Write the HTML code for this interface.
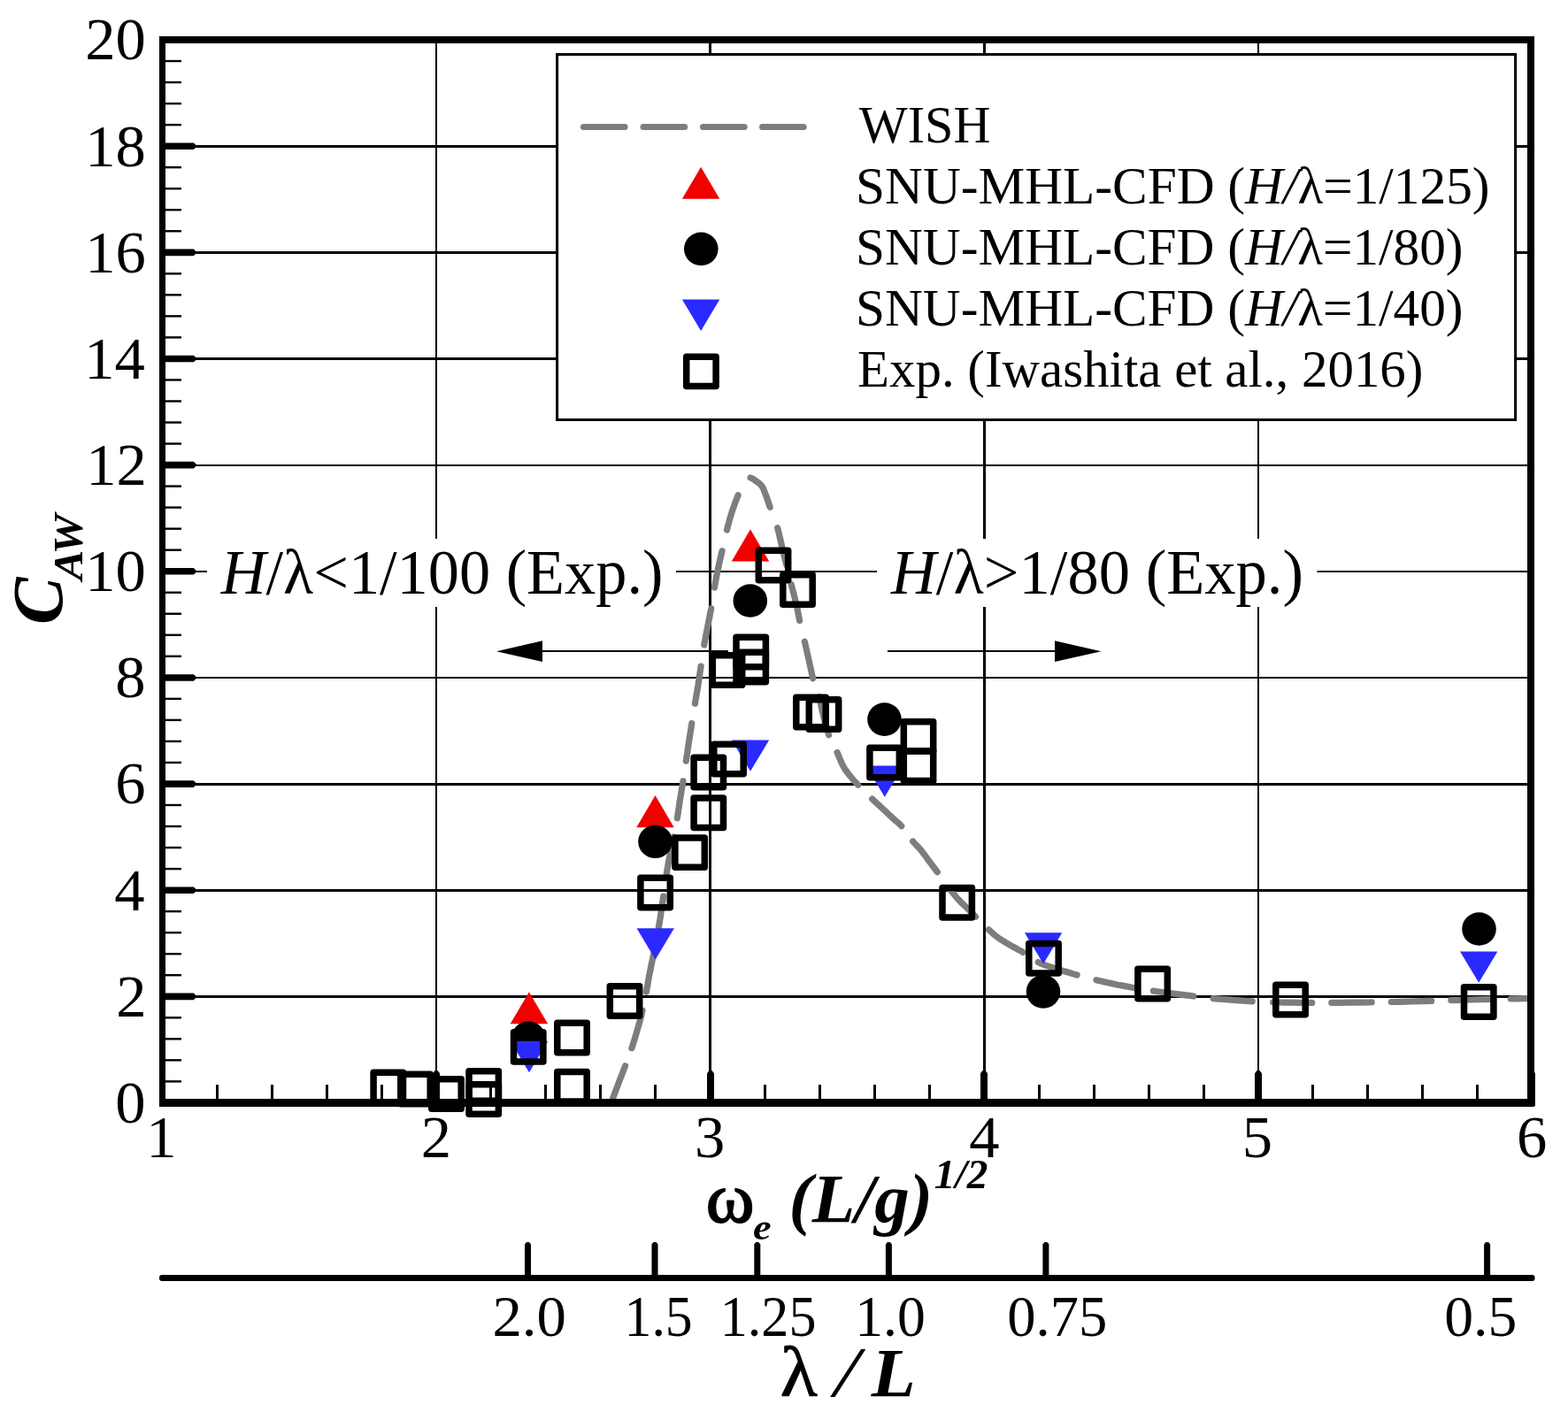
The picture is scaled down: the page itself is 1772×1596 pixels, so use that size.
<!DOCTYPE html>
<html lang="en">
<head>
<meta charset="utf-8">
<title>Added resistance coefficient</title>
<style>
html,body{margin:0;padding:0;background:#fff;}
body{width:1772px;height:1596px;overflow:hidden;}
svg{display:block;}
</style>
</head>
<body>
<svg width="1772" height="1596" viewBox="0 0 1772 1596" font-family="'Liberation Serif', 'DejaVu Serif', serif" fill="#000">
<rect x="0" y="0" width="1772" height="1596" fill="#fff"/>
<g id="grid" fill="#000" shape-rendering="crispEdges">
<rect x="492" y="45" width="2" height="1202"/>
<rect x="801" y="45" width="3" height="1202"/>
<rect x="1111" y="45" width="3" height="1202"/>
<rect x="1421" y="45" width="2" height="1202"/>
<rect x="184" y="164" width="1547" height="3"/>
<rect x="184" y="284" width="1547" height="3"/>
<rect x="184" y="404" width="1547" height="3"/>
<rect x="184" y="525" width="1547" height="2"/>
<rect x="184" y="645" width="1547" height="2"/>
<rect x="184" y="765" width="1547" height="2"/>
<rect x="184" y="885" width="1547" height="3"/>
<rect x="184" y="1005" width="1547" height="3"/>
<rect x="184" y="1125" width="1547" height="3"/>
</g>
<g id="ticks" fill="#000" shape-rendering="crispEdges">
<rect x="184" y="1221.17" width="21" height="2.4" shape-rendering="auto"/>
<rect x="184" y="1197.14" width="21" height="2.4" shape-rendering="auto"/>
<rect x="184" y="1173.12" width="21" height="2.4" shape-rendering="auto"/>
<rect x="184" y="1149.09" width="21" height="2.4" shape-rendering="auto"/>
<rect x="184" y="1101.03" width="21" height="2.4" shape-rendering="auto"/>
<rect x="184" y="1077.00" width="21" height="2.4" shape-rendering="auto"/>
<rect x="184" y="1052.98" width="21" height="2.4" shape-rendering="auto"/>
<rect x="184" y="1028.95" width="21" height="2.4" shape-rendering="auto"/>
<rect x="184" y="980.89" width="21" height="2.4" shape-rendering="auto"/>
<rect x="184" y="956.86" width="21" height="2.4" shape-rendering="auto"/>
<rect x="184" y="932.84" width="21" height="2.4" shape-rendering="auto"/>
<rect x="184" y="908.81" width="21" height="2.4" shape-rendering="auto"/>
<rect x="184" y="860.75" width="21" height="2.4" shape-rendering="auto"/>
<rect x="184" y="836.72" width="21" height="2.4" shape-rendering="auto"/>
<rect x="184" y="812.70" width="21" height="2.4" shape-rendering="auto"/>
<rect x="184" y="788.67" width="21" height="2.4" shape-rendering="auto"/>
<rect x="184" y="740.61" width="21" height="2.4" shape-rendering="auto"/>
<rect x="184" y="716.58" width="21" height="2.4" shape-rendering="auto"/>
<rect x="184" y="692.56" width="21" height="2.4" shape-rendering="auto"/>
<rect x="184" y="668.53" width="21" height="2.4" shape-rendering="auto"/>
<rect x="184" y="620.47" width="21" height="2.4" shape-rendering="auto"/>
<rect x="184" y="596.44" width="21" height="2.4" shape-rendering="auto"/>
<rect x="184" y="572.42" width="21" height="2.4" shape-rendering="auto"/>
<rect x="184" y="548.39" width="21" height="2.4" shape-rendering="auto"/>
<rect x="184" y="500.33" width="21" height="2.4" shape-rendering="auto"/>
<rect x="184" y="476.30" width="21" height="2.4" shape-rendering="auto"/>
<rect x="184" y="452.28" width="21" height="2.4" shape-rendering="auto"/>
<rect x="184" y="428.25" width="21" height="2.4" shape-rendering="auto"/>
<rect x="184" y="380.19" width="21" height="2.4" shape-rendering="auto"/>
<rect x="184" y="356.16" width="21" height="2.4" shape-rendering="auto"/>
<rect x="184" y="332.14" width="21" height="2.4" shape-rendering="auto"/>
<rect x="184" y="308.11" width="21" height="2.4" shape-rendering="auto"/>
<rect x="184" y="260.05" width="21" height="2.4" shape-rendering="auto"/>
<rect x="184" y="236.02" width="21" height="2.4" shape-rendering="auto"/>
<rect x="184" y="212.00" width="21" height="2.4" shape-rendering="auto"/>
<rect x="184" y="187.97" width="21" height="2.4" shape-rendering="auto"/>
<rect x="184" y="139.91" width="21" height="2.4" shape-rendering="auto"/>
<rect x="184" y="115.88" width="21" height="2.4" shape-rendering="auto"/>
<rect x="184" y="91.86" width="21" height="2.4" shape-rendering="auto"/>
<rect x="184" y="67.83" width="21" height="2.4" shape-rendering="auto"/>
<rect x="244" y="1226" width="3" height="21"/>
<rect x="306" y="1226" width="3" height="21"/>
<rect x="368" y="1226" width="3" height="21"/>
<rect x="430" y="1226" width="3" height="21"/>
<rect x="553" y="1226" width="3" height="21"/>
<rect x="615" y="1226" width="3" height="21"/>
<rect x="677" y="1226" width="3" height="21"/>
<rect x="739" y="1226" width="3" height="21"/>
<rect x="863" y="1226" width="3" height="21"/>
<rect x="925" y="1226" width="3" height="21"/>
<rect x="987" y="1226" width="3" height="21"/>
<rect x="1049" y="1226" width="3" height="21"/>
<rect x="1173" y="1226" width="3" height="21"/>
<rect x="1235" y="1226" width="3" height="21"/>
<rect x="1297" y="1226" width="3" height="21"/>
<rect x="1359" y="1226" width="3" height="21"/>
<rect x="1482" y="1226" width="3" height="21"/>
<rect x="1544" y="1226" width="3" height="21"/>
<rect x="1606" y="1226" width="3" height="21"/>
<rect x="1668" y="1226" width="3" height="21"/>
</g>
<g id="majorticks" fill="#000">
<polygon points="184,1122.56 218.8,1122.56 221.3,1124.96 221.3,1127.76 218.8,1130.16 184,1130.16"/>
<polygon points="184,1002.42 218.8,1002.42 221.3,1004.82 221.3,1007.62 218.8,1010.02 184,1010.02"/>
<polygon points="184,882.28 218.8,882.28 221.3,884.68 221.3,887.48 218.8,889.88 184,889.88"/>
<polygon points="184,762.14 218.8,762.14 221.3,764.54 221.3,767.34 218.8,769.74 184,769.74"/>
<polygon points="184,642.00 218.8,642.00 221.3,644.40 221.3,647.20 218.8,649.60 184,649.60"/>
<polygon points="184,521.86 218.8,521.86 221.3,524.26 221.3,527.06 218.8,529.46 184,529.46"/>
<polygon points="184,401.72 218.8,401.72 221.3,404.12 221.3,406.92 218.8,409.32 184,409.32"/>
<polygon points="184,281.58 218.8,281.58 221.3,283.98 221.3,286.78 218.8,289.18 184,289.18"/>
<polygon points="184,161.44 218.8,161.44 221.3,163.84 221.3,166.64 218.8,169.04 184,169.04"/>
<polygon points="489,1247 489,1213.3 491.5,1210 494.5,1210 497,1213.3 497,1247"/>
<polygon points="799,1247 799,1213.3 801.5,1210 804.5,1210 807,1213.3 807,1247"/>
<polygon points="1108,1247 1108,1213.3 1110.5,1210 1113.5,1210 1116,1213.3 1116,1247"/>
<polygon points="1418,1247 1418,1213.3 1420.5,1210 1423.5,1210 1426,1213.3 1426,1247"/>
<polygon points="1728.3,1247 1728.3,1213.3 1730.1,1210 1733.1,1210 1734.8999999999999,1213.3 1734.8999999999999,1249.3 1733.3999999999999,1250.8 1728.3,1250.8"/>
</g>
<rect x="234" y="609" width="530" height="77" fill="#fff"/>
<rect x="991" y="609" width="497.5" height="77" fill="#fff"/>
<g id="wish">
<path d="M690.3,1246.5 L690.5,1246.2 L690.7,1245.8 L690.9,1245.3 L691.3,1244.6 L691.8,1243.4 L692.5,1241.7 L693.4,1239.2 L694.6,1236.1 L695.9,1232.6 L697.3,1228.9 L698.7,1225.2 L700.0,1221.7 L701.3,1218.4 L702.6,1215.1 L703.9,1211.8 L705.1,1208.6 L706.3,1205.5 L706.6,1204.8" fill="none" stroke="#7d7d7d" stroke-width="7.2" stroke-linecap="round" stroke-linejoin="round"/>
<path d="M713.9,1184.7 L714.4,1183.4 L715.5,1179.8 L716.7,1176.0 L717.9,1172.2 L719.0,1168.5 L720.0,1165.0 L720.9,1161.8 L721.8,1158.8 L722.6,1156.0 L723.4,1153.1 L724.2,1150.0 L725.0,1146.7 L725.8,1143.1 L726.0,1142.2" fill="none" stroke="#7d7d7d" stroke-width="7.2" stroke-linecap="round" stroke-linejoin="round"/>
<path d="M730.4,1121.1 L730.7,1119.4 L731.5,1115.4 L732.2,1111.4 L732.8,1107.5 L733.5,1103.7 L734.2,1100.0 L734.9,1096.6 L735.5,1093.5 L736.1,1090.5 L736.8,1087.3 L737.5,1083.9 L738.3,1080.0 L738.8,1077.5" fill="none" stroke="#7d7d7d" stroke-width="7.2" stroke-linecap="round" stroke-linejoin="round"/>
<path d="M743.0,1055.5 L743.3,1053.9 L744.2,1049.2 L744.9,1045.1 L745.5,1041.4 L746.1,1037.9 L746.6,1034.6 L747.0,1031.5 L747.5,1028.3 L747.9,1025.3 L748.3,1022.6 L748.7,1020.1 L749.1,1017.4 L749.5,1014.3 L749.7,1013.1" fill="none" stroke="#7d7d7d" stroke-width="7.2" stroke-linecap="round" stroke-linejoin="round"/>
<path d="M753.0,989.6 L753.5,986.3 L754.2,981.7 L754.9,977.8 L755.5,974.3 L756.1,971.1 L756.7,967.8 L757.5,964.2 L758.3,960.0 L759.3,955.0 L760.5,949.3 L761.2,946.0" fill="none" stroke="#7d7d7d" stroke-width="7.2" stroke-linecap="round" stroke-linejoin="round"/>
<path d="M765.3,924.8 L765.7,922.5 L766.3,918.7 L766.8,915.3 L767.3,912.0 L767.7,908.7 L768.3,905.0 L769.0,900.9 L769.7,896.6 L770.4,892.2 L771.2,887.9 L771.9,883.8 L772.0,882.8" fill="none" stroke="#7d7d7d" stroke-width="7.2" stroke-linecap="round" stroke-linejoin="round"/>
<path d="M775.3,860.2 L775.5,859.1 L776.0,855.5 L776.6,851.7 L777.1,847.9 L777.7,844.0 L778.3,840.0 L778.9,835.9 L779.6,831.6 L780.3,827.2 L781.0,822.9 L781.6,818.8 L781.8,817.7" fill="none" stroke="#7d7d7d" stroke-width="7.2" stroke-linecap="round" stroke-linejoin="round"/>
<path d="M785.4,795.2 L785.5,794.4 L786.1,791.3 L786.6,788.2 L787.2,785.0 L787.7,781.7 L788.3,778.3 L788.9,774.8 L789.4,771.2 L790.0,767.5 L790.5,763.7 L791.1,759.9 L791.7,756.0 L792.1,753.1" fill="none" stroke="#7d7d7d" stroke-width="7.2" stroke-linecap="round" stroke-linejoin="round"/>
<path d="M795.8,729.0 L796.0,727.5 L796.8,723.3 L797.6,719.0 L798.4,714.8 L799.2,710.7 L800.0,706.7 L800.7,702.9 L801.5,699.1 L802.2,695.4 L802.9,691.9 L803.6,688.4 L803.7,687.8" fill="none" stroke="#7d7d7d" stroke-width="7.2" stroke-linecap="round" stroke-linejoin="round"/>
<path d="M807.5,664.0 L807.7,662.9 L808.4,658.7 L809.2,654.4 L810.0,650.0 L810.9,645.8 L811.7,641.7 L812.5,637.9 L813.4,634.1 L814.2,630.4 L815.1,626.9 L815.9,623.4 L816.1,622.7" fill="none" stroke="#7d7d7d" stroke-width="7.2" stroke-linecap="round" stroke-linejoin="round"/>
<path d="M821.5,599.0 L821.7,598.3 L822.5,594.7 L823.5,591.1 L824.5,587.4 L825.6,583.7 L826.7,580.0 L828.0,576.2 L829.4,572.1 L830.9,568.1 L832.4,564.2 L833.8,560.6 L834.1,559.7" fill="none" stroke="#7d7d7d" stroke-width="7.2" stroke-linecap="round" stroke-linejoin="round"/>
<path d="M848.1,540.0 L848.1,540.0 L848.8,540.3 L849.5,540.6 L850.3,541.0 L851.2,541.5 L852.1,542.1 L853.1,542.8 L854.0,543.5 L855.0,544.2 L856.0,544.9 L857.0,545.6 L858.0,546.4 L859.0,547.2 L859.9,548.1 L860.8,549.2 L861.6,550.4 L862.3,551.6 L862.9,553.0 L863.5,554.6 L864.2,556.3 L865.0,558.3 L865.9,560.6 L866.8,563.2 L867.7,566.0 L868.7,569.0 L869.7,572.0 L870.2,573.4" fill="none" stroke="#7d7d7d" stroke-width="7.2" stroke-linecap="round" stroke-linejoin="round"/>
<path d="M878.7,596.7 L879.2,598.4 L880.3,603.0 L881.4,607.9 L882.6,612.9 L883.8,618.1 L885.0,623.3 L886.3,628.7 L887.7,634.4 L888.8,638.5" fill="none" stroke="#7d7d7d" stroke-width="7.2" stroke-linecap="round" stroke-linejoin="round"/>
<path d="M894.2,660.4 L894.5,661.6 L895.7,666.3 L896.9,670.8 L898.0,675.1 L899.0,679.3 L900.0,683.3 L900.8,687.1 L901.6,690.8 L902.2,694.3 L902.9,697.6 L903.5,700.9 L903.6,701.4" fill="none" stroke="#7d7d7d" stroke-width="7.2" stroke-linecap="round" stroke-linejoin="round"/>
<path d="M909.3,725.2 L909.6,726.2 L910.5,730.2 L911.4,734.3 L912.3,738.5 L913.3,742.7 L914.2,746.7 L915.1,750.7 L916.0,754.8 L916.9,758.9 L917.7,762.9 L918.6,766.6 L918.7,766.9" fill="none" stroke="#7d7d7d" stroke-width="7.2" stroke-linecap="round" stroke-linejoin="round"/>
<path d="M925.7,787.7 L925.8,788.2 L926.6,791.6 L927.4,795.1 L928.2,798.9 L929.0,802.7 L930.0,806.7 L931.1,811.0 L932.3,815.6 L933.5,820.3 L934.8,825.0 L936.2,829.4 L936.6,830.8" fill="none" stroke="#7d7d7d" stroke-width="7.2" stroke-linecap="round" stroke-linejoin="round"/>
<path d="M946.1,850.6 L947.1,852.8 L948.3,855.8 L949.5,858.7 L950.8,861.5 L952.0,864.2 L953.3,866.7 L954.6,868.9 L956.0,871.0 L957.4,872.9 L958.8,874.7 L960.2,876.5 L961.7,878.3 L963.1,880.0 L964.5,881.6 L965.9,883.1 L967.4,884.7 L969.0,886.4 L969.8,887.2" fill="none" stroke="#7d7d7d" stroke-width="7.2" stroke-linecap="round" stroke-linejoin="round"/>
<path d="M985.7,903.1 L987.1,904.5 L989.1,906.3 L991.0,908.1 L992.9,909.8 L994.8,911.5 L996.7,913.3 L998.6,915.1 L1000.6,916.9 L1002.5,918.7 L1004.4,920.6 L1006.4,922.4 L1008.3,924.2 L1010.3,926.0 L1012.2,927.7 L1014.2,929.3 L1016.2,931.1 L1018.1,933.0 L1018.8,933.7" fill="none" stroke="#7d7d7d" stroke-width="7.2" stroke-linecap="round" stroke-linejoin="round"/>
<path d="M1031.6,951.0 L1032.4,951.9 L1034.0,953.6 L1035.4,955.1 L1036.9,956.6 L1038.4,958.2 L1040.0,960.0 L1041.6,962.0 L1043.3,964.2 L1045.0,966.4 L1046.6,968.7 L1048.3,971.0 L1050.0,973.3 L1051.7,975.5 L1053.3,977.8 L1055.0,980.0 L1056.7,982.2 L1058.4,984.5 L1059.3,985.7" fill="none" stroke="#7d7d7d" stroke-width="7.2" stroke-linecap="round" stroke-linejoin="round"/>
<path d="M1072.5,1003.8 L1073.5,1005.1 L1075.6,1007.8 L1077.8,1010.5 L1079.9,1013.1 L1082.0,1015.5 L1084.1,1017.7 L1086.2,1019.9 L1088.2,1021.9 L1090.3,1023.9 L1092.3,1025.8 L1094.2,1027.7 L1096.0,1029.5 L1097.7,1031.2 L1099.3,1032.8 L1100.9,1034.5 L1102.5,1036.1 L1102.6,1036.2" fill="none" stroke="#7d7d7d" stroke-width="7.2" stroke-linecap="round" stroke-linejoin="round"/>
<path d="M1117.5,1050.9 L1118.2,1051.5 L1120.1,1053.3 L1122.0,1055.0 L1123.9,1056.7 L1125.9,1058.3 L1128.0,1059.9 L1130.1,1061.4 L1132.3,1062.8 L1134.6,1064.2 L1136.9,1065.6 L1139.2,1066.9 L1141.6,1068.3 L1144.0,1069.7 L1146.5,1071.0 L1149.0,1072.4 L1151.5,1073.8 L1154.1,1075.2 L1156.1,1076.4" fill="none" stroke="#7d7d7d" stroke-width="7.2" stroke-linecap="round" stroke-linejoin="round"/>
<path d="M1173.3,1087.6 L1173.7,1087.8 L1176.6,1089.2 L1179.6,1090.3 L1182.5,1091.4 L1185.6,1092.4 L1188.9,1093.5 L1192.4,1094.6 L1196.3,1095.8 L1200.6,1097.2 L1205.1,1098.5 L1209.5,1099.8 L1213.8,1101.1 L1217.1,1102.0" fill="none" stroke="#7d7d7d" stroke-width="7.2" stroke-linecap="round" stroke-linejoin="round"/>
<path d="M1238.9,1107.7 L1240.8,1108.2 L1244.6,1109.0 L1248.5,1109.9 L1252.4,1110.8 L1256.3,1111.6 L1260.1,1112.4 L1263.8,1113.2 L1267.6,1113.9 L1271.3,1114.6 L1274.9,1115.3 L1278.5,1116.0 L1282.1,1116.6 L1283.0,1116.8" fill="none" stroke="#7d7d7d" stroke-width="7.2" stroke-linecap="round" stroke-linejoin="round"/>
<path d="M1303.4,1120.1 L1307.8,1120.7 L1314.0,1121.5 L1320.8,1122.4 L1327.6,1123.3 L1334.1,1124.1 L1340.0,1124.8 L1344.8,1125.4 L1348.9,1126.0" fill="none" stroke="#7d7d7d" stroke-width="7.2" stroke-linecap="round" stroke-linejoin="round"/>
<path d="M1371.1,1128.6 L1374.1,1128.8 L1382.2,1129.5 L1391.0,1130.2 L1400.0,1130.9 L1408.8,1131.5 L1415.2,1131.9" fill="none" stroke="#7d7d7d" stroke-width="7.2" stroke-linecap="round" stroke-linejoin="round"/>
<path d="M1438.6,1132.9 L1444.3,1133.0 L1451.6,1133.1 L1460.0,1133.2 L1469.5,1133.3 L1479.9,1133.4 L1482.7,1133.4" fill="none" stroke="#7d7d7d" stroke-width="7.2" stroke-linecap="round" stroke-linejoin="round"/>
<path d="M1504.8,1133.4 L1513.6,1133.3 L1525.0,1133.2 L1536.4,1133.1 L1548.1,1133.0 L1550.2,1132.9" fill="none" stroke="#7d7d7d" stroke-width="7.2" stroke-linecap="round" stroke-linejoin="round"/>
<path d="M1572.3,1132.5 L1583.4,1132.3 L1595.0,1132.0 L1606.3,1131.7 L1617.5,1131.4 L1617.7,1131.4" fill="none" stroke="#7d7d7d" stroke-width="7.2" stroke-linecap="round" stroke-linejoin="round"/>
<path d="M1639.8,1130.7 L1650.8,1130.3 L1662.0,1130.0 L1674.2,1129.7 L1686.4,1129.4" fill="none" stroke="#7d7d7d" stroke-width="7.2" stroke-linecap="round" stroke-linejoin="round"/>
<path d="M1707.3,1129.0 L1713.0,1128.9 L1723.5,1128.7 L1728.5,1128.6" fill="none" stroke="#7d7d7d" stroke-width="7.2" stroke-linecap="round" stroke-linejoin="round"/>
</g>
<g id="cfd125">
<polygon points="597.9,1121.2 576.7,1157.2 619.1,1157.2" fill="#f20000"/>
<polygon points="740.5,899.1 719.3,935.2 761.7,935.2" fill="#f20000"/>
<polygon points="848.0,598.3 826.8,634.4 869.2,634.4" fill="#f20000"/>
</g>
<g id="cfd80">
<ellipse cx="597.2" cy="1173.2" rx="19.3" ry="18.8" fill="#000"/>
<ellipse cx="740.5" cy="951.3" rx="19.3" ry="18.8" fill="#000"/>
<ellipse cx="847.8" cy="679.0" rx="19.3" ry="18.8" fill="#000"/>
<ellipse cx="999.5" cy="813.1" rx="19.3" ry="18.8" fill="#000"/>
<ellipse cx="1179.0" cy="1120.9" rx="19.3" ry="18.8" fill="#000"/>
<ellipse cx="1671.5" cy="1050.0" rx="19.3" ry="18.8" fill="#000"/>
</g>
<g id="cfd40">
<polygon points="598.0,1212.2 576.8,1176.8 619.2,1176.8" fill="#2a2aff"/>
<polygon points="740.7,1084.6 719.5,1049.2 761.9,1049.2" fill="#2a2aff"/>
<polygon points="848.0,871.8 826.8,836.4 869.2,836.4" fill="#2a2aff"/>
<polygon points="999.8,900.8 978.6,865.4 1021.0,865.4" fill="#2a2aff"/>
<polygon points="1179.1,1089.6 1157.9,1054.2 1200.3,1054.2" fill="#2a2aff"/>
<polygon points="1671.2,1110.8 1650.0,1075.4 1692.4,1075.4" fill="#2a2aff"/>
</g>
<g id="exp">
<rect x="422.1" y="1212.3" width="33.4" height="33.4" fill="none" stroke="#000" stroke-width="7.5" stroke-linejoin="round"/>
<rect x="452.8" y="1214.3" width="33.4" height="33.4" fill="none" stroke="#000" stroke-width="7.5" stroke-linejoin="round"/>
<rect x="487.8" y="1219.8" width="33.4" height="33.4" fill="none" stroke="#000" stroke-width="7.5" stroke-linejoin="round"/>
<rect x="530.0" y="1210.8" width="33.4" height="33.4" fill="none" stroke="#000" stroke-width="7.5" stroke-linejoin="round"/>
<rect x="530.0" y="1225.8" width="33.4" height="33.4" fill="none" stroke="#000" stroke-width="7.5" stroke-linejoin="round"/>
<rect x="580.5" y="1166.7" width="33.4" height="33.4" fill="none" stroke="#000" stroke-width="7.5" stroke-linejoin="round"/>
<rect x="629.8" y="1156.3" width="33.4" height="33.4" fill="none" stroke="#000" stroke-width="7.5" stroke-linejoin="round"/>
<rect x="629.8" y="1211.5" width="33.4" height="33.4" fill="none" stroke="#000" stroke-width="7.5" stroke-linejoin="round"/>
<rect x="689.3" y="1114.8" width="33.4" height="33.4" fill="none" stroke="#000" stroke-width="7.5" stroke-linejoin="round"/>
<rect x="723.9" y="992.3" width="33.4" height="33.4" fill="none" stroke="#000" stroke-width="7.5" stroke-linejoin="round"/>
<rect x="762.9" y="946.9" width="33.4" height="33.4" fill="none" stroke="#000" stroke-width="7.5" stroke-linejoin="round"/>
<rect x="784.1" y="902.0" width="33.4" height="33.4" fill="none" stroke="#000" stroke-width="7.5" stroke-linejoin="round"/>
<rect x="784.1" y="856.3" width="33.4" height="33.4" fill="none" stroke="#000" stroke-width="7.5" stroke-linejoin="round"/>
<rect x="806.8" y="841.3" width="33.4" height="33.4" fill="none" stroke="#000" stroke-width="7.5" stroke-linejoin="round"/>
<rect x="805.3" y="740.8" width="33.4" height="33.4" fill="none" stroke="#000" stroke-width="7.5" stroke-linejoin="round"/>
<rect x="832.0" y="737.3" width="33.4" height="33.4" fill="none" stroke="#000" stroke-width="7.5" stroke-linejoin="round"/>
<rect x="832.0" y="720.3" width="33.4" height="33.4" fill="none" stroke="#000" stroke-width="7.5" stroke-linejoin="round"/>
<rect x="857.3" y="622.3" width="33.4" height="33.4" fill="none" stroke="#000" stroke-width="7.5" stroke-linejoin="round"/>
<rect x="884.8" y="649.8" width="33.4" height="33.4" fill="none" stroke="#000" stroke-width="7.5" stroke-linejoin="round"/>
<rect x="899.8" y="788.3" width="33.4" height="33.4" fill="none" stroke="#000" stroke-width="7.5" stroke-linejoin="round"/>
<rect x="914.3" y="790.8" width="33.4" height="33.4" fill="none" stroke="#000" stroke-width="7.5" stroke-linejoin="round"/>
<rect x="982.9" y="845.3" width="33.4" height="33.4" fill="none" stroke="#000" stroke-width="7.5" stroke-linejoin="round"/>
<rect x="1021.3" y="815.7" width="33.4" height="33.4" fill="none" stroke="#000" stroke-width="7.5" stroke-linejoin="round"/>
<rect x="1021.3" y="849.0" width="33.4" height="33.4" fill="none" stroke="#000" stroke-width="7.5" stroke-linejoin="round"/>
<rect x="1065.0" y="1003.5" width="33.4" height="33.4" fill="none" stroke="#000" stroke-width="7.5" stroke-linejoin="round"/>
<rect x="1162.8" y="1066.5" width="33.4" height="33.4" fill="none" stroke="#000" stroke-width="7.5" stroke-linejoin="round"/>
<rect x="1285.9" y="1095.3" width="33.4" height="33.4" fill="none" stroke="#000" stroke-width="7.5" stroke-linejoin="round"/>
<rect x="1441.8" y="1113.3" width="33.4" height="33.4" fill="none" stroke="#000" stroke-width="7.5" stroke-linejoin="round"/>
<rect x="1654.5" y="1115.8" width="33.4" height="33.4" fill="none" stroke="#000" stroke-width="7.5" stroke-linejoin="round"/>
</g>
<g id="frame" fill="#000" shape-rendering="crispEdges">
<rect x="180" y="41" width="7" height="1210"/>
<rect x="1726" y="41" width="8" height="1210"/>
<rect x="180" y="41" width="1554" height="8"/>
<rect x="180" y="1242" width="1554" height="9"/>
</g>
<rect x="629.6" y="61.5" width="1083" height="413" fill="#fff" stroke="#000" stroke-width="3"/>
<path d="M659.5,143.5 L706.0,143.5" fill="none" stroke="#7d7d7d" stroke-width="7.2" stroke-linecap="round" stroke-linejoin="round"/>
<path d="M727.1,143.5 L773.6,143.5" fill="none" stroke="#7d7d7d" stroke-width="7.2" stroke-linecap="round" stroke-linejoin="round"/>
<path d="M794.6,143.5 L841.1,143.5" fill="none" stroke="#7d7d7d" stroke-width="7.2" stroke-linecap="round" stroke-linejoin="round"/>
<path d="M861.6,143.5 L908.1,143.5" fill="none" stroke="#7d7d7d" stroke-width="7.2" stroke-linecap="round" stroke-linejoin="round"/>
<polygon points="792.1,188.7 770.9,224.8 813.3,224.8" fill="#f20000"/>
<ellipse cx="792.3" cy="281.4" rx="19.3" ry="18.8" fill="#000"/>
<polygon points="792.1,374.0 770.9,338.6 813.3,338.6" fill="#2a2aff"/>
<rect x="775.7" y="403.2" width="33.4" height="33.4" fill="none" stroke="#000" stroke-width="7.5" stroke-linejoin="round"/>
<g id="labels">
<text x="970.80" y="161.4" font-size="60" textLength="148.67" lengthAdjust="spacingAndGlyphs" xml:space="preserve">WISH</text>
<text x="967.04" y="230.1" font-size="60" textLength="716.55" lengthAdjust="spacingAndGlyphs" xml:space="preserve">SNU-MHL-CFD (<tspan font-style="italic">H/</tspan>λ=1/125)</text>
<text x="967.05" y="299.2" font-size="60" textLength="686.55" lengthAdjust="spacingAndGlyphs" xml:space="preserve">SNU-MHL-CFD (<tspan font-style="italic">H/</tspan>λ=1/80)</text>
<text x="967.05" y="368.4" font-size="60" textLength="686.55" lengthAdjust="spacingAndGlyphs" xml:space="preserve">SNU-MHL-CFD (<tspan font-style="italic">H/</tspan>λ=1/40)</text>
<text x="969.04" y="437.4" font-size="60" textLength="639.40" lengthAdjust="spacingAndGlyphs" xml:space="preserve">Exp. (Iwashita et al., 2016)</text>
<text x="249.79" y="671" font-size="71" textLength="499.64" lengthAdjust="spacingAndGlyphs" xml:space="preserve"><tspan font-style="italic">H</tspan>/λ&lt;1/100 (Exp.)</text>
<text x="1006.89" y="671" font-size="71" textLength="466.15" lengthAdjust="spacingAndGlyphs" xml:space="preserve"><tspan font-style="italic">H</tspan>/λ&gt;1/80 (Exp.)</text>
<text x="556.44" y="1510" font-size="65.5" textLength="83.49" lengthAdjust="spacingAndGlyphs" xml:space="preserve">2.0</text>
<text x="705.60" y="1510" font-size="65.5" textLength="77.11" lengthAdjust="spacingAndGlyphs" xml:space="preserve">1.5</text>
<text x="813.81" y="1510" font-size="65.5" textLength="108.68" lengthAdjust="spacingAndGlyphs" xml:space="preserve">1.25</text>
<text x="966.16" y="1510" font-size="65.5" textLength="79.63" lengthAdjust="spacingAndGlyphs" xml:space="preserve">1.0</text>
<text x="1138.29" y="1510" font-size="65.5" textLength="113.05" lengthAdjust="spacingAndGlyphs" xml:space="preserve">0.75</text>
<text x="1632.24" y="1510" font-size="65.5" textLength="82.14" lengthAdjust="spacingAndGlyphs" xml:space="preserve">0.5</text>
<text x="797.69" y="1381.2" font-size="81" stroke="#000" stroke-width="1.8" stroke-linejoin="round" textLength="54.80" lengthAdjust="spacingAndGlyphs" xml:space="preserve">ω</text>
<text x="850.99" y="1401.4" font-size="42" font-weight="bold" font-style="italic" textLength="20.63" lengthAdjust="spacingAndGlyphs" xml:space="preserve">e</text>
<text x="891.41" y="1381" font-size="77.5" font-weight="bold" font-style="italic" textLength="162.75" lengthAdjust="spacingAndGlyphs" xml:space="preserve">(L/g)</text>
<text x="1055.88" y="1342.7" font-size="46.4" font-weight="bold" font-style="italic" textLength="60.53" lengthAdjust="spacingAndGlyphs" xml:space="preserve">1/2</text>
<text x="881.84" y="1578.1" font-size="80" stroke="#000" stroke-width="1" stroke-linejoin="round" textLength="41.94" lengthAdjust="spacingAndGlyphs" xml:space="preserve">λ</text>
<text x="942.86" y="1578" font-size="80" font-style="italic" textLength="27.90" lengthAdjust="spacingAndGlyphs" xml:space="preserve">/</text>
<text x="984.80" y="1577.9" font-size="78" font-weight="bold" font-style="italic" textLength="50.04" lengthAdjust="spacingAndGlyphs" xml:space="preserve">L</text>
<text transform="translate(70.3,705.91) rotate(-90)" font-size="80" font-weight="bold" font-style="italic" textLength="53.57" lengthAdjust="spacingAndGlyphs">C</text>
<text transform="translate(92.8,655.83) rotate(-90)" font-size="47" font-weight="bold" font-style="italic" textLength="74.67" lengthAdjust="spacingAndGlyphs">AW</text>
<text x="130.30" y="1268.8" font-size="68.6">0</text>
<text x="131.30" y="1148.7" font-size="68.6">2</text>
<text x="129.30" y="1028.5" font-size="68.6">4</text>
<text x="130.30" y="908.4" font-size="68.6">6</text>
<text x="130.30" y="788.2" font-size="68.6">8</text>
<text x="96.30" y="668.1" font-size="68.6">10</text>
<text x="97.30" y="548.0" font-size="68.6">12</text>
<text x="95.30" y="427.8" font-size="68.6">14</text>
<text x="96.30" y="307.7" font-size="68.6">16</text>
<text x="96.30" y="187.5" font-size="68.6">18</text>
<text x="96.30" y="67.4" font-size="68.6">20</text>
<text x="165.13" y="1307.9" font-size="68.6">1</text>
<text x="475.80" y="1307.9" font-size="68.6">2</text>
<text x="784.96" y="1307.9" font-size="68.6">3</text>
<text x="1095.13" y="1307.9" font-size="68.6">4</text>
<text x="1403.80" y="1307.9" font-size="68.6">5</text>
<text x="1713.96" y="1307.9" font-size="68.6">6</text>
</g>
<rect x="611" y="735" width="211.5" height="2" fill="#000" shape-rendering="crispEdges"/>
<polygon points="561,736.2 613,724.3 613,748.1" fill="#000"/>
<rect x="1003" y="735" width="191" height="2" fill="#000" shape-rendering="crispEdges"/>
<polygon points="1244.5,736.2 1192,724.3 1192,748.1" fill="#000"/>
<g id="axis2" fill="#000">
<rect x="180" y="1441" width="1554.5" height="7" rx="3"/>
<polygon points="593.0,1445 593.0,1406.5 595.0,1404 598.0,1404 600.0,1406.5 600.0,1445"/>
<polygon points="736.5,1445 736.5,1406.5 738.5,1404 741.5,1404 743.5,1406.5 743.5,1445"/>
<polygon points="852.3,1445 852.3,1406.5 854.3,1404 857.3,1404 859.3,1406.5 859.3,1445"/>
<polygon points="1000.9,1445 1000.9,1406.5 1002.9,1404 1005.9,1404 1007.9,1406.5 1007.9,1445"/>
<polygon points="1178.4,1445 1178.4,1406.5 1180.4,1404 1183.4,1404 1185.4,1406.5 1185.4,1445"/>
<polygon points="1677.1,1445 1677.1,1406.5 1679.1,1404 1682.1,1404 1684.1,1406.5 1684.1,1445"/>
</g>
</svg>
</body>
</html>
